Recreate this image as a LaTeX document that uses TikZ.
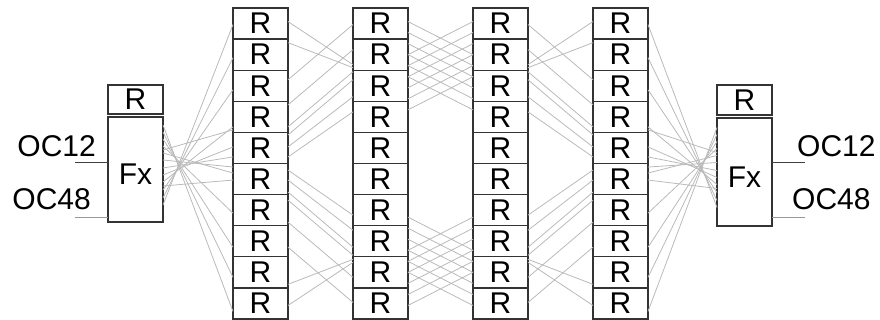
\documentclass[tikz,border=0pt]{standalone}
\usepackage{fontspec}
\setmainfont{Liberation Sans}
\usetikzlibrary{calc}
\begin{document}
\begin{tikzpicture}[x=1pt,y=1pt,
  rbox/.style={draw=black!80,line width=1.2pt,fill=white,minimum width=55pt,minimum height=31.1pt,inner sep=0pt,outer sep=0pt,font=\fontsize{30}{30}\selectfont},
  fxbox/.style={rbox,minimum height=105pt,text height=31pt},
  lbl/.style={inner sep=0pt,font=\fontsize{30}{30}\selectfont},
  wire/.style={draw=black!27,line width=0.8pt},
  stub/.style={line width=1pt}
]
  \useasboundingbox (0,0) rectangle (880,-320);
  \foreach \c/\cx in {1/260.5,2/380.5,3/500.5,4/620.5}
    \foreach \r in {1,...,10}
      \node[rbox] (c\c-\r) at (\cx,{-23.55-31.1*(\r-1)}) {R};
  \node[rbox,minimum height=29pt] (rL) at (135.5,-99.5) {R};
  \node[fxbox] (fxL) at (135.5,-169.5) {Fx};
  \node[rbox,minimum height=30pt] (rR) at (744.5,-100) {R};
  \node[fxbox,minimum height=108pt] (fxR) at (744.5,-172) {Fx};
  \node[lbl,anchor=base east] (oc12L) at (96,-157) {OC12};
  \node[lbl,anchor=base east] (oc48L) at (91,-210) {OC48};
  \node[lbl,anchor=base west] (oc12R) at (797,-157) {OC12};
  \node[lbl,anchor=base west] (oc48R) at (792,-210) {OC48};
  \coordinate (s12L) at (75,-163);
  \coordinate (s48L) at (75,-218);
  \coordinate (s12R) at (805,-163);
  \coordinate (s48R) at (805,-218);
  \draw[stub,black!75] (s12L) -- (s12L -| fxL.west);
  \draw[stub,black!40] (s48L) -- (s48L -| fxL.west);
  \draw[stub,black!75] (s12R) -- (s12R -| fxR.east);
  \draw[stub,black!40] (s48R) -- (s48R -| fxR.east);
  \foreach \f/\n/\o in {-35.5/1/-1,-28.5/2/-3,-20.5/3/-4,-12.5/4/-10,-5.5/5/1,1.5/5/-9,9.5/6/12,16.5/6/6,23.5/7/-3,30.5/8/-6,37.5/9/-5,44.5/10/-8,-16.5/6/-1,19.5/4/-13} {
    \draw[wire] ([yshift=\f pt]fxL.east) -- ([yshift=\o pt]c1-\n.west);
    \draw[wire] ([yshift=\f pt]fxR.west) -- ([yshift=\o pt]c4-\n.east);
  }
  \foreach \a/\p/\b/\q in {1/2/2/-10,2/12/2/-13,3/6/1/-1,4/12/2/5,4/-10/3/14,5/13/3/6,5/1/3/-11,5/-9/4/5} {
    \pgfmathtruncatemacro\ma{11-\a}
    \pgfmathtruncatemacro\mb{11-\b}
    \pgfmathsetmacro\mp{-1*\p}
    \pgfmathsetmacro\mq{-1*\q}
    \draw[wire] ([yshift=\p pt]c1-\a.east) -- ([yshift=\q pt]c2-\b.west);
    \draw[wire] ([yshift=\mp pt]c1-\ma.east) -- ([yshift=\mq pt]c2-\mb.west);
    \draw[wire] ([yshift=\p pt]c4-\a.west) -- ([yshift=\q pt]c3-\b.east);
    \draw[wire] ([yshift=\mp pt]c4-\ma.west) -- ([yshift=\mq pt]c3-\mb.east);
  }
  \foreach \a/\p/\b/\q in {1/2/2/0,1/-9/2/-11,2/11/3/9,2/0/3/-2,2/-11/3/-13,3/9/4/7} {
    \pgfmathtruncatemacro\ma{11-\a}
    \pgfmathtruncatemacro\mb{11-\b}
    \pgfmathsetmacro\mp{-1*\p}
    \pgfmathsetmacro\mq{-1*\q}
    \draw[wire] ([yshift=\p pt]c2-\a.east) -- ([yshift=\q pt]c3-\b.west);
    \draw[wire] ([yshift=\q pt]c2-\b.east) -- ([yshift=\p pt]c3-\a.west);
    \draw[wire] ([yshift=\mp pt]c2-\ma.east) -- ([yshift=\mq pt]c3-\mb.west);
    \draw[wire] ([yshift=\mq pt]c2-\mb.east) -- ([yshift=\mp pt]c3-\ma.west);
  }
\end{tikzpicture}
\end{document}
